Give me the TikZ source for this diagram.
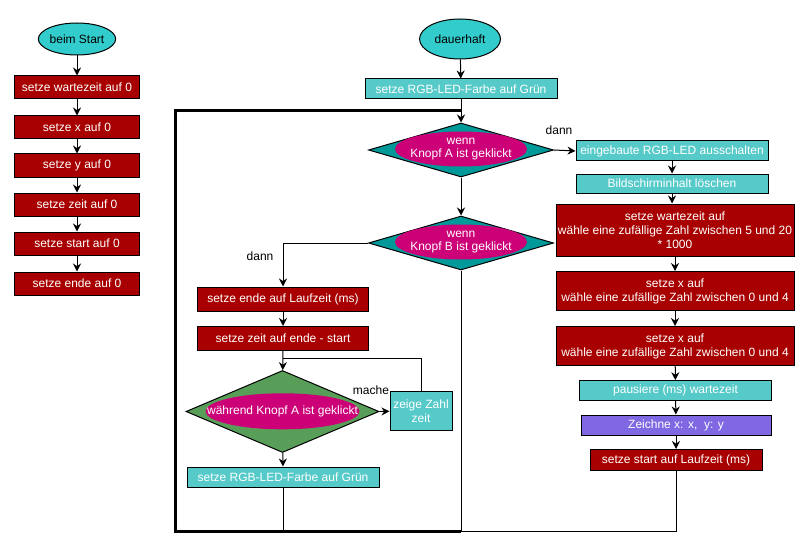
\documentclass[tikz,border=0pt]{standalone}
\usepackage{fontspec}
\setmainfont{Liberation Sans}
\usetikzlibrary{shapes.geometric,arrows.meta}
\definecolor{evcyan}{RGB}{51,204,204}
\definecolor{blcyan}{RGB}{86,201,201}
\definecolor{blred}{RGB}{168,0,0}
\definecolor{blpurple}{RGB}{128,104,226}
\definecolor{ifteal}{RGB}{0,153,153}
\definecolor{whgreen}{RGB}{88,158,88}
\definecolor{cdmag}{RGB}{204,0,119}
\begin{document}
\begin{tikzpicture}[x=1pt,y=-1pt,font=\fontsize{12}{14}\selectfont]
\tikzstyle{ev} = [ellipse,draw=black,fill=evcyan,inner sep=0pt,line width=1pt] %event
\tikzstyle{rb} = [rectangle,draw=black,fill=blred,text=white,align=center,inner sep=0pt,line width=1pt] %red block
\tikzstyle{cb} = [rectangle,draw=black,fill=blcyan,text=white,align=center,inner sep=0pt,line width=1pt] %cyan block
\tikzstyle{pb} = [rectangle,draw=black,fill=blpurple,text=white,align=center,inner sep=0pt,line width=1pt] %purple block
\tikzstyle{dd} = [diamond,draw=black,fill=ifteal,inner sep=0pt,line width=1pt] %if
\tikzstyle{dg} = [diamond,draw=black,fill=whgreen,inner sep=0pt,line width=1pt] %while
\tikzstyle{cv} = [ellipse,fill=cdmag,inner sep=0pt] %condition
\tikzstyle{ct} = [text=white,align=center,inner sep=0pt,font=\fontsize{12}{12.5}\selectfont] %condition text
\tikzstyle{ar} = [-{Stealth[length=8pt,width=8pt]},line width=1pt] %arrow
\tikzstyle{lp} = [line width=3pt] %loop back
\tikzstyle{lb} = [inner sep=0pt,text=black] %label
\useasboundingbox (0,0) rectangle (810,548);
% beim Start
\node[ev,minimum width=76pt,minimum height=32pt](bs)at(77,39){beim Start};
\node[rb,minimum width=125pt,minimum height=23pt](b1)at(77,87.5){setze wartezeit auf 0};
\node[rb,minimum width=125pt,minimum height=23pt](b2)at(77,127.5){setze x auf 0};
\node[rb,minimum width=125pt,minimum height=23pt](b3)at(77,165.5){setze y auf 0};
\node[rb,minimum width=125pt,minimum height=23pt](b4)at(77,204.5){setze zeit auf 0};
\node[rb,minimum width=125pt,minimum height=23pt](b5)at(77,243.5){setze start auf 0};
\node[rb,minimum width=125pt,minimum height=23pt](b6)at(77,283.5){setze ende auf 0};
% dauerhaft
\node[ev,minimum width=81pt,minimum height=40pt](dh)at(460,39){dauerhaft};
\node[cb,minimum width=192pt,minimum height=20pt](c0)at(461,89){setze RGB-LED-Farbe auf Grün};
\node[dd,minimum width=185pt,minimum height=54pt](da)at(461,150){};
\node[cv,minimum width=132pt,minimum height=35pt,label={[ct]center:{wenn\\Knopf A ist geklickt}}](ca)at(461,149){};
\node[dd,minimum width=185pt,minimum height=54pt](db)at(461,243){};
\node[cv,minimum width=132pt,minimum height=35pt,label={[ct]center:{wenn\\Knopf B ist geklickt}}](cb)at(461,242){};
% Knopf B
\node[rb,minimum width=171pt,minimum height=24pt](e1)at(283,299){setze ende auf Laufzeit (ms)};
\node[rb,minimum width=171pt,minimum height=24pt](e2)at(283,338.5){setze zeit auf ende - start};
\node[dg,minimum width=193pt,minimum height=82pt](dw)at(282.5,411.5){};
\node[cv,minimum width=154pt,minimum height=36pt,label={[ct]center:{während Knopf A ist geklickt}}](cw)at(282.5,411.3){};
\node[cb,minimum width=62pt,minimum height=39pt](zz)at(421,411.3){zeige Zahl\\zeit};
\node[cb,minimum width=192pt,minimum height=20pt](g1)at(283,477){setze RGB-LED-Farbe auf Grün};
% Knopf A
\node[cb,minimum width=192pt,minimum height=20pt](r1)at(672,151){eingebaute RGB-LED ausschalten};
\node[cb,minimum width=192pt,minimum height=19pt](r2)at(672,183.5){Bildschirminhalt löschen};
\node[rb,minimum width=238pt,minimum height=52pt](r3)at(675,230){setze wartezeit auf\\wähle eine zufällige Zahl zwischen 5 und 20\\* 1000};
\node[rb,minimum width=238pt,minimum height=39pt](r4)at(675,291){setze x auf\\wähle eine zufällige Zahl zwischen 0 und 4};
\node[rb,minimum width=238pt,minimum height=39pt](r5)at(675,346){setze x auf\\wähle eine zufällige Zahl zwischen 0 und 4};
\node[cb,minimum width=192pt,minimum height=20pt](r6)at(675.5,390.7){pausiere (ms) wartezeit};
\node[pb,minimum width=190pt,minimum height=20pt](r7)at(676,425){Zeichne x: x,\ \ y: y};
\node[rb,minimum width=172pt,minimum height=21pt](r8)at(676,460){setze start auf Laufzeit (ms)};
% labels
\node[lb](la)at(559,130){dann};
\node[lb](ld)at(260,256){dann};
\node[lb](lm)at(371,390){mache};
\coordinate(jt)at(175,111);
\coordinate(ja)at(461,111);
\coordinate(jb)at(461,531);
\coordinate(jw)at(283,358);
% connectors
\draw[ar](bs)--(b1);
\draw[ar](b1)--(b2);
\draw[ar](b2)--(b3);
\draw[ar](b3)--(b4);
\draw[ar](b4)--(b5);
\draw[ar](b5)--(b6);
\draw[ar](dh)--(c0);
\draw[lp](jb)-|(jt)--(ja);
\draw[ar](c0)--(da);
\draw[ar](da)--(db);
\draw[ar](da.east)--(r1.west);
\draw[ar](r1)--(r2);
\draw[ar](r2.south)--(r2.south|-r3.north);
\draw[ar](r3)--(r4);
\draw[ar](r4)--(r5);
\draw[ar](r5)--(r6);
\draw[ar](r6)--(r7);
\draw[ar](r7)--(r8);
\draw[line width=1pt](r8.south)|-(jb);
\draw[line width=1pt](db)--(jb);
\draw[ar](db.west)-|(e1.north);
\draw[ar](e1)--(e2);
\draw[ar](e2)--(dw);
\draw[line width=1pt](zz.north)|-(jw);
\draw[ar](dw.east)--(zz.west);
\draw[ar](dw)--(g1);
\draw[line width=1pt](g1.south)--(g1.south|-jb);
\end{tikzpicture}
\end{document}
